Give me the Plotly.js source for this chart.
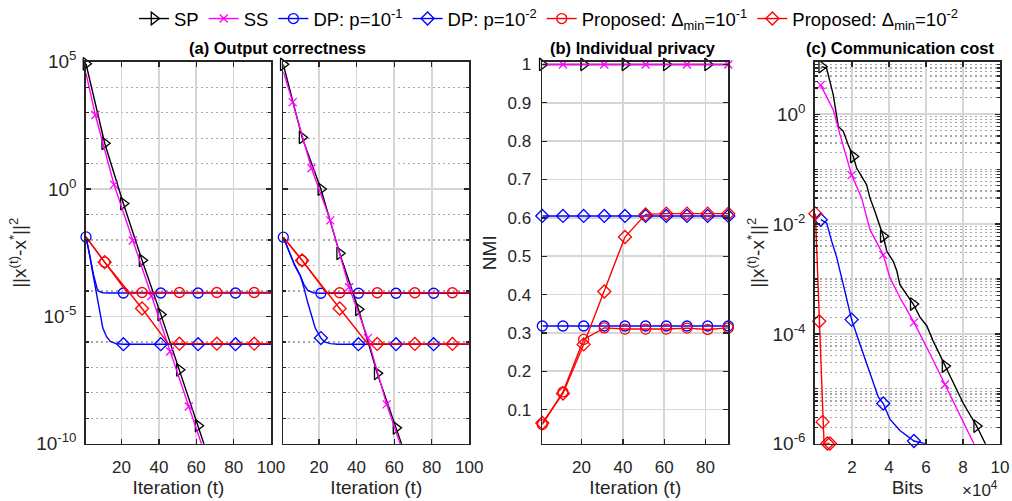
<!DOCTYPE html>
<html><head><meta charset="utf-8">
<script src="https://cdn.plot.ly/plotly-3.0.1.min.js"></script>
<style>html,body{margin:0;padding:0;background:#fff}#chart{width:1012px;height:501px}</style>
</head><body><div id="chart"></div>
<script>
// ================= DATA =================
// Panel (a) left: iterations vs ||x(t)-x*||^2
const a1IterSP = [1, 11, 21, 31, 41, 51, 61, 71];
const a1ErrSP  = [8.3e4, 63, 0.27, 1.6e-3, 1.2e-5, 8.0e-8, 5.1e-10, 3.0e-12];
const a1IterSS = [1, 6, 16, 26, 36, 46, 56, 66];
const a1ErrSS  = [3.5e4, 8.1e2, 1.5, 9.5e-3, 6.3e-5, 4.2e-7, 2.9e-9, 2.0e-11];
const a1IterDP1 = [1, 2, 3, 4, 5, 6, 7, 8, 10, 13, 21, 41, 61, 81, 100];
const a1ErrDP1  = [1.32e-2, 5.0e-3, 2.24e-3, 1.05e-3, 4.5e-4, 2.0e-4, 1.2e-4, 9.5e-5, 8.5e-5, 8.3e-5, 8.3e-5, 8.3e-5, 8.3e-5, 8.3e-5, 8.3e-5];
const a1IterDP2 = [1, 2, 3, 4, 5, 6, 7, 8, 9, 10, 12, 14, 17, 21, 41, 61, 81, 100];
const a1ErrDP2  = [1.32e-2, 6.3e-3, 2.5e-3, 8.9e-4, 3.5e-4, 1.26e-4, 4.5e-5, 1.6e-5, 6.3e-6, 3.5e-6, 1.6e-6, 1.05e-6, 8.5e-7, 8.1e-7, 8.1e-7, 8.1e-7, 8.1e-7, 8.1e-7];
const a1IterPR1 = [1, 11, 23, 31, 51, 71, 91, 100];
const a1ErrPR1  = [1.32e-2, 1.35e-3, 8.7e-5, 8.7e-5, 8.7e-5, 8.7e-5, 8.7e-5, 8.7e-5];
const a1IterPR2 = [1, 11, 31, 45, 51, 71, 91, 100];
const a1ErrPR2  = [1.32e-2, 1.35e-3, 2.04e-5, 8.5e-7, 8.5e-7, 8.5e-7, 8.5e-7, 8.5e-7];

// Panel (a) right
const a2IterSP = [1, 11, 21, 31, 41, 51, 61, 71];
const a2ErrSP  = [7.9e4, 1.07e2, 1.0, 3.0e-3, 1.9e-5, 5.8e-8, 4.2e-10, 3.0e-12];
const a2IterSS = [1, 6, 16, 26, 36, 46, 56, 66];
const a2ErrSS  = [4.1e4, 2.6e3, 6.6, 5.9e-2, 1.4e-4, 1.4e-6, 3.5e-9, 2.5e-11];
const a2IterDP1 = [1, 4, 7, 10, 11, 12, 14, 17, 21, 41, 61, 81, 100];
const a2ErrDP1  = [1.29e-2, 3.7e-3, 1.05e-3, 4.0e-4, 2.8e-4, 1.78e-4, 1.05e-4, 8.5e-5, 8.1e-5, 8.1e-5, 8.1e-5, 8.1e-5, 8.1e-5];
const a2IterDP2 = [1, 4, 7, 10, 11, 12, 14, 16, 18, 21, 23, 26, 30, 41, 61, 81, 100];
const a2ErrDP2  = [1.29e-2, 3.7e-3, 1.05e-3, 4.0e-4, 2.5e-4, 1.32e-4, 3.5e-5, 1.0e-5, 3.5e-6, 1.41e-6, 1.0e-6, 8.5e-7, 8.1e-7, 8.1e-7, 8.1e-7, 8.1e-7, 8.1e-7];
const a2IterPR1 = [1, 11, 24, 31, 51, 71, 91, 100];
const a2ErrPR1  = [1.29e-2, 1.58e-3, 8.5e-5, 8.5e-5, 8.5e-5, 8.5e-5, 8.5e-5, 8.5e-5];
const a2IterPR2 = [1, 11, 31, 46, 51, 71, 91, 100];
const a2ErrPR2  = [1.29e-2, 1.58e-3, 2.04e-5, 8.3e-7, 8.3e-7, 8.3e-7, 8.3e-7, 8.3e-7];

// marker iterations for panel (a)
const mkA_SP  = [1, 11, 21, 31, 41, 51, 61, 71];
const mkA_SS  = [6, 16, 26, 36, 46, 56, 66];
const mkA_DP1 = [1, 21, 41, 61, 81];
const mkA_DP2 = [21, 41, 61, 81];
const mkA_PR  = [11, 31, 51, 71, 91];

// Panel (b): NMI
const bIter   = [1, 11, 21, 31, 41, 51, 61, 71, 81, 91];
const bNmiSP  = [1, 1, 1, 1, 1, 1, 1, 1, 1, 1];
const bNmiSS  = [1, 1, 1, 1, 1, 1, 1, 1, 1, 1];
const bNmiDP1 = [0.318, 0.318, 0.318, 0.318, 0.318, 0.318, 0.318, 0.318, 0.318, 0.318];
const bNmiDP2 = [0.605, 0.605, 0.605, 0.605, 0.605, 0.605, 0.605, 0.605, 0.605, 0.605];
const bNmiPR1 = [0.061, 0.146, 0.283, 0.313, 0.310, 0.310, 0.310, 0.3125, 0.309, 0.313];
const bNmiPR2 = [0.065, 0.142, 0.270, 0.408, 0.550, 0.609, 0.611, 0.611, 0.611, 0.611];
const mkB_SP  = [1, 21, 41, 61, 81];
const mkB_SS  = [11, 31, 51, 71, 91];

// Panel (c): bits vs ||x(t)-x*||^2
const cBitsSP = [3620, 6300, 9900, 12600, 15300, 18000, 20700, 22500, 25200, 27900, 29700, 32400, 36900, 38800, 42300, 44200, 45900, 49600, 53100, 56800, 60400, 63900, 70300, 74800, 80200, 87400, 91900, 95000];
const cErrSP  = [7.35, 6.84, 2.24, 0.60, 0.49, 0.275, 0.17, 0.105, 0.074, 0.052, 0.030, 0.017, 6.0e-3, 3.2e-3, 2.1e-3, 1.41e-3, 7.9e-4, 5.2e-4, 3.5e-4, 2.0e-4, 1.41e-4, 7.4e-5, 2.6e-5, 1.23e-5, 5.4e-6, 2.1e-6, 1.0e-6, 6.3e-7];
const cBitsSS = [3080, 9900, 13500, 19800, 25200, 29700, 36900, 40500, 45900, 53500, 62200, 70300, 78400, 85900, 90000];
const cErrSS  = [3.39, 1.2, 0.43, 0.078, 0.030, 7.9e-3, 2.75e-3, 1.05e-3, 4.6e-4, 1.62e-4, 4.3e-5, 1.2e-5, 3.5e-6, 1.0e-6, 5.0e-7];
const cBitsDP = [3080, 6300, 9000, 11700, 15300, 19800, 24300, 29700, 34200, 36900, 40500, 45900, 51400, 53500, 59500, 65000];
const cErrDP  = [1.2e-2, 1.05e-2, 4.9e-3, 2.5e-3, 7.9e-4, 1.82e-4, 6.5e-5, 1.86e-5, 7.1e-6, 5.4e-6, 2.8e-6, 1.74e-6, 1.23e-6, 1.12e-6, 1.0e-6, 8.1e-7];
const cBitsPR = [200, 2300, 4100, 4900, 6700, 8100];
const cErrPR  = [1.55e-2, 1.7e-4, 2.5e-6, 1.01e-6, 1.01e-6, 1.01e-6];
const mkC_SP = [3620, 20700, 36900, 53100, 70300, 87400];
const mkC_SS = [3080, 19800, 36900, 53500, 70300];
const mkC_DP = [3080, 19800, 36900, 53500];
const mkC_PR = [200, 2300, 4100, 6700, 8100];

// legend names
const legendNames = ['SP', 'SS', 'DP: p=10<sup>-1</sup>', 'DP: p=10<sup>-2</sup>',
  'Proposed: \u0394<sub>min</sub>=10<sup>-1</sup>', 'Proposed: \u0394<sub>min</sub>=10<sup>-2</sup>'];
const seriesKeys = ['SP', 'SS', 'DP1', 'DP2', 'PR1', 'PR2'];

// ================= STYLE =================
const FONT = 'Liberation Sans, Arial, Helvetica, sans-serif';
const TXT = '#262626';
const STY = {
  SP:  {color: '#000000', symbol: 'triangle-right-open', size: 11},
  SS:  {color: '#ff00ff', symbol: 'x-thin-open', size: 8},
  DP1: {color: '#0000ff', symbol: 'circle-open', size: 10},
  DP2: {color: '#0000ff', symbol: 'diamond-open', size: 10},
  PR1: {color: '#ff0000', symbol: 'circle-open', size: 10},
  PR2: {color: '#ff0000', symbol: 'diamond-open', size: 10}
};

function pick(xs, ys, mk) {
  const X = [], Y = [];
  xs.forEach((x, i) => { if (mk.includes(x)) { X.push(x); Y.push(ys[i]); } });
  return [X, Y];
}

const traces = [];
function addSeries(key, xs, ys, mk, xa, ya) {
  const s = STY[key];
  traces.push({type: 'scatter', mode: 'lines', x: xs, y: ys, xaxis: xa, yaxis: ya,
    line: {color: s.color, width: 1.4}, showlegend: false, hoverinfo: 'skip'});
  const p = pick(xs, ys, mk);
  traces.push({type: 'scatter', mode: 'markers', x: p[0], y: p[1], xaxis: xa, yaxis: ya,
    marker: {symbol: s.symbol, size: s.size, color: s.color, line: {color: s.color, width: 1.3}},
    cliponaxis: false, showlegend: false, hoverinfo: 'skip'});
}

// panel a1
addSeries('SP', a1IterSP, a1ErrSP, mkA_SP, 'x', 'y');
addSeries('SS', a1IterSS, a1ErrSS, mkA_SS, 'x', 'y');
addSeries('DP1', a1IterDP1, a1ErrDP1, mkA_DP1, 'x', 'y');
addSeries('DP2', a1IterDP2, a1ErrDP2, mkA_DP2, 'x', 'y');
addSeries('PR1', a1IterPR1, a1ErrPR1, mkA_PR, 'x', 'y');
addSeries('PR2', a1IterPR2, a1ErrPR2, mkA_PR, 'x', 'y');
// panel a2
addSeries('SP', a2IterSP, a2ErrSP, mkA_SP, 'x2', 'y2');
addSeries('SS', a2IterSS, a2ErrSS, mkA_SS, 'x2', 'y2');
addSeries('DP1', a2IterDP1, a2ErrDP1, mkA_DP1, 'x2', 'y2');
addSeries('DP2', a2IterDP2, a2ErrDP2, mkA_DP2, 'x2', 'y2');
addSeries('PR1', a2IterPR1, a2ErrPR1, mkA_PR, 'x2', 'y2');
addSeries('PR2', a2IterPR2, a2ErrPR2, mkA_PR, 'x2', 'y2');
// panel b
addSeries('SP', bIter, bNmiSP, mkB_SP, 'x3', 'y3');
addSeries('SS', bIter, bNmiSS, mkB_SS, 'x3', 'y3');
addSeries('DP1', bIter, bNmiDP1, bIter, 'x3', 'y3');
addSeries('DP2', bIter, bNmiDP2, bIter, 'x3', 'y3');
addSeries('PR1', bIter, bNmiPR1, bIter, 'x3', 'y3');
addSeries('PR2', bIter, bNmiPR2, bIter, 'x3', 'y3');
// panel c
addSeries('SP', cBitsSP, cErrSP, mkC_SP, 'x4', 'y4');
addSeries('SS', cBitsSS, cErrSS, mkC_SS, 'x4', 'y4');
addSeries('DP2', cBitsDP, cErrDP, mkC_DP, 'x4', 'y4');
addSeries('PR2', cBitsPR, cErrPR, mkC_PR, 'x4', 'y4');

// legend-only entries
seriesKeys.forEach((k, i) => {
  const s = STY[k];
  traces.push({type: 'scatter', mode: 'lines+markers', x: [null], y: [null], xaxis: 'x', yaxis: 'y',
    name: legendNames[i], line: {color: s.color, width: 1.4},
    marker: {symbol: s.symbol, size: s.size, color: s.color, line: {color: s.color, width: 1.3}},
    showlegend: true});
});

// ================= AXES =================
function baseAxis(extra) {
  return Object.assign({
    showline: true, linecolor: TXT, linewidth: 1.7, mirror: 'ticks',
    ticks: 'inside', ticklen: 5, tickwidth: 1.3, tickcolor: TXT,
    showgrid: true, gridcolor: '#d6d6d6', gridwidth: 1.7, zeroline: false,
    tickfont: {family: FONT, size: 17, color: TXT}, fixedrange: true
  }, extra);
}
function decadeMinor(lo, hi, skip, sub) {
  const v = [];
  for (let e = lo; e <= hi; e++) {
    for (let k = 1; k <= 9; k++) {
      if (!sub && k > 1) continue;
      const val = k * Math.pow(10, e);
      if (k === 1 && skip.includes(e)) continue;
      v.push(val);
    }
  }
  return v;
}
const minorStyle = {ticks: 'inside', ticklen: 3, tickcolor: TXT, showgrid: true,
  gridcolor: '#a8a8a8', gridwidth: 1.3, griddash: '2px,3px'};
const expText = e => '10<sup>' + e + '</sup>';

const yA = {
  type: 'log', range: [-10, 5], tickmode: 'array',
  tickvals: [1e-10, 1e-5, 1, 1e5], ticktext: [expText(-10), expText(-5), expText(0), expText(5)],
  minor: Object.assign({tickmode: 'array', tickvals: decadeMinor(-9, 4, [-5, 0], false)}, minorStyle),
  tickfont: {family: FONT, size: 19, color: TXT}, ticklabelstandoff: 4
};
const xIter = {range: [1, 100], tickmode: 'array', tickvals: [20, 40, 60, 80, 100], ticklabelstandoff: 7};
const titleFont = {family: FONT, size: 19, color: TXT};

const yC = {
  type: 'log', range: [-6, 0.956], tickmode: 'array',
  tickvals: [1e-6, 1e-4, 1e-2, 1], ticktext: [expText(-6), expText(-4), expText(-2), expText(0)],
  minor: Object.assign({tickmode: 'array', tickvals: decadeMinor(-6, 0, [-6, -4, -2, 0], true)}, minorStyle),
  tickfont: {family: FONT, size: 19, color: TXT}, ticklabelstandoff: 4
};

const dom = {
  a1: [86 / 1012, 271 / 1012], a2: [283.3 / 1012, 469.3 / 1012],
  b: [542.3 / 1012, 728.3 / 1012], c: [815 / 1012, 1000 / 1012]
};
const yDom = [1 - 443.5 / 501, 1 - 60 / 501];

const layout = {
  width: 1012, height: 501, margin: {l: 0, r: 0, t: 0, b: 0},
  paper_bgcolor: '#ffffff', plot_bgcolor: '#ffffff',
  font: {family: FONT, color: TXT},
  showlegend: true,
  legend: {orientation: 'h', x: 0.542, xanchor: 'center', y: 1.004, yanchor: 'top',
    font: {family: FONT, size: 18.5, color: '#000'}, bgcolor: 'rgba(0,0,0,0)', itemwidth: 30},
  xaxis: baseAxis(Object.assign({}, xIter, {domain: dom.a1, anchor: 'y',
    title: {text: 'Iteration (t)', font: titleFont, standoff: 1}})),
  yaxis: baseAxis(Object.assign({}, yA, {domain: yDom, anchor: 'x',
    title: {text: '||x<sup>(t)</sup>-x<sup>*</sup>||<sup>2</sup>', font: titleFont, standoff: 4}})),
  xaxis2: baseAxis(Object.assign({}, xIter, {domain: dom.a2, anchor: 'y2',
    title: {text: 'Iteration (t)', font: titleFont, standoff: 1}})),
  yaxis2: baseAxis(Object.assign({}, yA, {domain: yDom, anchor: 'x2', showticklabels: false})),
  xaxis3: baseAxis({domain: dom.b, anchor: 'y3', range: [1, 91], tickmode: 'array',
    tickvals: [20, 40, 60, 80], ticklabelstandoff: 7,
    title: {text: 'Iteration (t)', font: titleFont, standoff: 1}}),
  yaxis3: baseAxis({domain: yDom, anchor: 'x3', range: [0.011, 1.007], tickmode: 'array',
    tickvals: [0.1, 0.2, 0.3, 0.4, 0.5, 0.6, 0.7, 0.8, 0.9, 1],
    ticktext: ['0.1', '0.2', '0.3', '0.4', '0.5', '0.6', '0.7', '0.8', '0.9', '1'],
    ticklabelstandoff: 6,
    title: {text: 'NMI', font: titleFont, standoff: 6}}),
  xaxis4: baseAxis({domain: dom.c, anchor: 'y4', range: [0, 100000], tickmode: 'array',
    tickvals: [20000, 40000, 60000, 80000, 100000], ticktext: ['2', '4', '6', '8', '10'],
    ticklabelstandoff: 7,
    title: {text: 'Bits', font: titleFont, standoff: 1}}),
  yaxis4: baseAxis(Object.assign({}, yC, {domain: yDom, anchor: 'x4',
    title: {text: '||x<sup>(t)</sup>-x<sup>*</sup>||<sup>2</sup>', font: titleFont, standoff: 3}})),
  annotations: [
    {text: '<b>(a) Output correctness</b>', x: 277.5 / 1012, y: 1 - 46 / 501, xref: 'paper', yref: 'paper',
      showarrow: false, xanchor: 'center', yanchor: 'middle', font: {family: FONT, size: 16.5, color: '#000'}},
    {text: '<b>(b) Individual privacy</b>', x: 632.5 / 1012, y: 1 - 46 / 501, xref: 'paper', yref: 'paper',
      showarrow: false, xanchor: 'center', yanchor: 'middle', font: {family: FONT, size: 16.5, color: '#000'}},
    {text: '<b>(c) Communication cost</b>', x: 900 / 1012, y: 1 - 46 / 501, xref: 'paper', yref: 'paper',
      showarrow: false, xanchor: 'center', yanchor: 'middle', font: {family: FONT, size: 16.5, color: '#000'}},
    {text: '\u00d710<sup>4</sup>', x: 980 / 1012, y: 1 - 489 / 501, xref: 'paper', yref: 'paper',
      showarrow: false, xanchor: 'center', yanchor: 'middle', font: {family: FONT, size: 17, color: TXT}}
  ]
};

Plotly.newPlot('chart', traces, layout, {staticPlot: true, displayModeBar: false});
</script></body></html>
